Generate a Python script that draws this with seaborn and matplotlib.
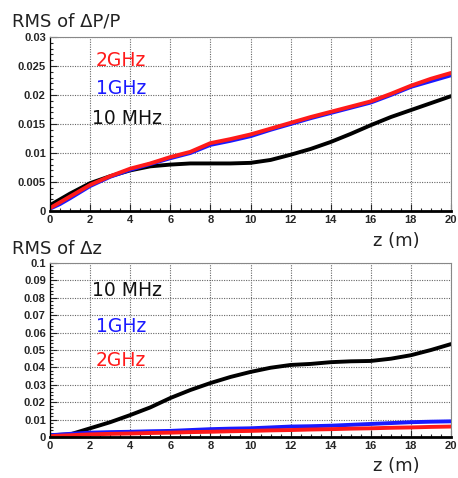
import numpy as np
import pandas as pd
import matplotlib
matplotlib.use("Agg")
import matplotlib.pyplot as plt
import seaborn as sns
from matplotlib.ticker import MultipleLocator

# ---- data ----
z_top = [0, 0.5, 1, 2, 3, 4, 5, 6, 7, 8, 9, 10, 11, 12, 13, 14, 15, 16, 17, 18, 19, 20]
dp_2ghz = [0.0005, 0.0015, 0.0025, 0.0045, 0.0060, 0.0073, 0.0082, 0.0093, 0.0102, 0.0117, 0.0124,
           0.0132, 0.0142, 0.0152, 0.0162, 0.0171, 0.0180, 0.0189, 0.0202, 0.0216, 0.0228, 0.0238]
dp_1ghz = [0.0004, 0.0012, 0.0022, 0.0043, 0.0059, 0.0071, 0.0081, 0.0091, 0.0100, 0.0114, 0.0121,
           0.0129, 0.0140, 0.0150, 0.0160, 0.0169, 0.0178, 0.0187, 0.0200, 0.0214, 0.0224, 0.0234]
dp_10mhz = [0.0010, 0.0020, 0.0030, 0.0048, 0.0060, 0.0070, 0.0077, 0.0080, 0.0082, 0.0082, 0.0082,
            0.0083, 0.0088, 0.0097, 0.0107, 0.0119, 0.0133, 0.0148, 0.0162, 0.0174, 0.0186, 0.0198]

z_bot = [0, 1, 2, 3, 4, 5, 6, 7, 8, 9, 10, 11, 12, 13, 14, 15, 16, 17, 18, 19, 20]
dz_10mhz = [0.0010, 0.0015, 0.0050, 0.0085, 0.0126, 0.0170, 0.0224, 0.0270, 0.0310, 0.0345, 0.0374,
            0.0398, 0.0414, 0.0420, 0.0430, 0.0435, 0.0437, 0.0450, 0.0470, 0.0500, 0.0534]
dz_1ghz = [0.0010, 0.0018, 0.0025, 0.0028, 0.0030, 0.0033, 0.0035, 0.0040, 0.0045, 0.0048, 0.0050,
           0.0055, 0.0060, 0.0062, 0.0065, 0.0070, 0.0075, 0.0080, 0.0085, 0.0088, 0.0090]
dz_2ghz = [0.0005, 0.0010, 0.0015, 0.0018, 0.0020, 0.0023, 0.0025, 0.0028, 0.0030, 0.0033, 0.0035,
           0.0038, 0.0040, 0.0043, 0.0045, 0.0048, 0.0050, 0.0053, 0.0055, 0.0058, 0.0060]

top_yticks = [0, 0.005, 0.01, 0.015, 0.02, 0.025, 0.03]
top_ylabels = ["0", "0.005", "0.01", "0.015", "0.02", "0.025", "0.03"]
bot_yticks = [0, 0.01, 0.02, 0.03, 0.04, 0.05, 0.06, 0.07, 0.08, 0.09, 0.1]
bot_ylabels = ["0", "0.01", "0.02", "0.03", "0.04", "0.05", "0.06", "0.07", "0.08", "0.09", "0.1"]
x_ticks = [0, 2, 4, 6, 8, 10, 12, 14, 16, 18, 20]

series_names = ["10 MHz", "1GHz", "2GHz"]
colors = {"10 MHz": "#000000", "1GHz": "#1a1aff", "2GHz": "#ff1a1a"}

top_df = pd.concat([
    pd.DataFrame({"z": z_top, "v": dp_10mhz, "s": "10 MHz"}),
    pd.DataFrame({"z": z_top, "v": dp_1ghz, "s": "1GHz"}),
    pd.DataFrame({"z": z_top, "v": dp_2ghz, "s": "2GHz"}),
])
bot_df = pd.concat([
    pd.DataFrame({"z": z_bot, "v": dz_10mhz, "s": "10 MHz"}),
    pd.DataFrame({"z": z_bot, "v": dz_1ghz, "s": "1GHz"}),
    pd.DataFrame({"z": z_bot, "v": dz_2ghz, "s": "2GHz"}),
])

sns.set_style("white")
plt.rcParams['font.family'] = ['DejaVu Sans']

W, H = 458, 478
fig = plt.figure(figsize=(W / 100, H / 100), dpi=100)


def px_axes(x0, y0, x1, y1):
    return fig.add_axes([x0 / W, 1 - y1 / H, (x1 - x0) / W, (y1 - y0) / H])


ax1 = px_axes(50, 37, 451, 211)
ax2 = px_axes(50, 263, 451, 437)

sns.lineplot(data=top_df, x="z", y="v", hue="s", hue_order=series_names, palette=colors,
             linewidth=2.8, ax=ax1, legend=False)
sns.lineplot(data=bot_df, x="z", y="v", hue="s", hue_order=series_names, palette=colors,
             linewidth=2.8, ax=ax2, legend=False)


def style(ax, ymax, yminor, yticks, ylabels):
    ax.set_xlim(0, 20)
    ax.set_ylim(0, ymax)
    ax.set_xticks(x_ticks)
    ax.set_xticklabels([str(v) for v in x_ticks])
    ax.set_yticks(yticks)
    ax.set_yticklabels(ylabels)
    ax.xaxis.set_minor_locator(MultipleLocator(0.5))
    ax.yaxis.set_minor_locator(MultipleLocator(yminor))
    ax.grid(True, which="major", color="#666666", linestyle=(0, (1, 1.2)), linewidth=0.8)
    ax.tick_params(which="both", direction="in", length=5, width=0.8, labelsize=8, pad=3,
                   top=False, right=False, left=True, bottom=True)
    ax.tick_params(which="minor", length=2.5)
    for lab in ax.get_xticklabels() + ax.get_yticklabels():
        lab.set_fontweight("bold")
        lab.set_family(["Liberation Sans", "DejaVu Sans"])
    ax.set_xlabel("")
    ax.set_ylabel("")
    for s in ["top", "right"]:
        ax.spines[s].set_color("#888888")
        ax.spines[s].set_linewidth(0.8)
    ax.spines["left"].set_color("black")
    ax.spines["left"].set_linewidth(0.9)
    ax.spines["bottom"].set_color("black")
    ax.spines["bottom"].set_linewidth(2)


style(ax1, 0.03, 0.001, top_yticks, top_ylabels)
style(ax2, 0.1, 0.002, bot_yticks, bot_ylabels)

# titles and axis labels
txt = dict(fontsize=13, color="#222222", va="baseline")
fig.text(12 / W, 1 - 26 / H, "RMS of ΔP/P", ha="left", **txt)
fig.text(12 / W, 1 - 254 / H, "RMS of Δz", ha="left", **txt)
fig.text(396 / W, 1 - 246 / H, "z (m)", ha="center", **txt)
fig.text(396 / W, 1 - 471 / H, "z (m)", ha="center", **txt)

# series annotations
lab_kw = dict(fontsize=13.5, ha="left", va="center")
fig.text(96 / W, 1 - 60 / H, "2GHz", color=colors["2GHz"], **lab_kw)
fig.text(96 / W, 1 - 88 / H, "1GHz", color=colors["1GHz"], **lab_kw)
fig.text(92 / W, 1 - 118 / H, "10 MHz", color="#111111", **lab_kw)
fig.text(92 / W, 1 - 291 / H, "10 MHz", color="#111111", **lab_kw)
fig.text(96 / W, 1 - 326 / H, "1GHz", color=colors["1GHz"], **lab_kw)
fig.text(96 / W, 1 - 361 / H, "2GHz", color=colors["2GHz"], **lab_kw)

fig.savefig("out.png", dpi=100)
